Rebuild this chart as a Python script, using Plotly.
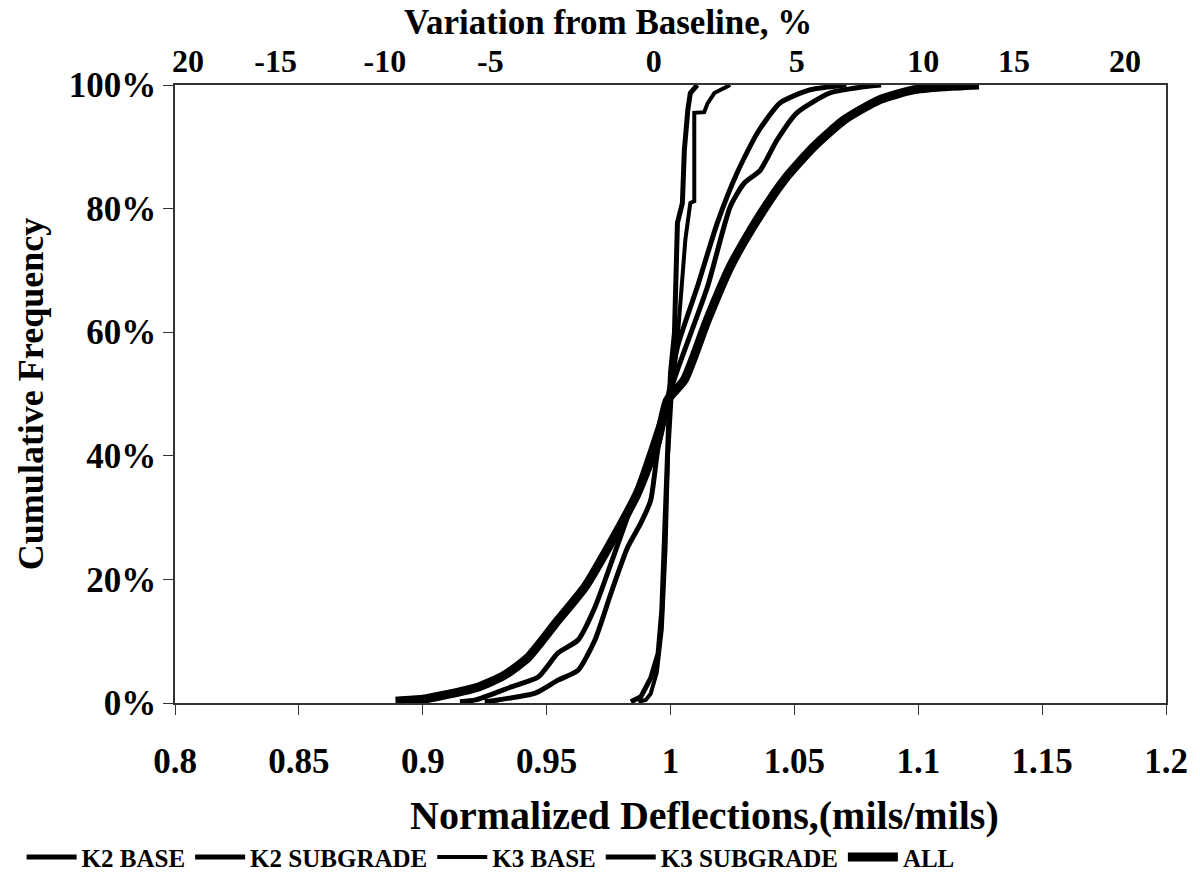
import plotly.graph_objects as go

# ---- data ----
k2_base_x = [0.984, 0.988, 0.992, 0.995, 0.9965, 0.9975, 0.9985, 0.9995, 1.0, 1.0016, 1.0028, 1.0048, 1.0056, 1.0070, 1.0080, 1.0108]
k2_base_y = [0.002, 0.01, 0.04, 0.08, 0.15, 0.25, 0.38, 0.48, 0.534, 0.599, 0.777, 0.809, 0.895, 0.96, 0.987, 1.0]

k2_sub_x = [0.915, 0.9213, 0.9357, 0.9466, 0.9546, 0.9627, 0.9695, 0.9775, 0.9855, 0.992, 0.996, 1.0028, 1.0149, 1.0241, 1.0297, 1.0362, 1.043, 1.051, 1.0643, 1.0779, 1.085]
k2_sub_y = [0.002, 0.005, 0.026, 0.042, 0.081, 0.102, 0.155, 0.243, 0.333, 0.409, 0.458, 0.539, 0.673, 0.803, 0.841, 0.862, 0.911, 0.955, 0.987, 0.997, 1.0]

k3_base_x = [0.987, 0.990, 0.992, 0.9945, 0.9965, 0.998, 0.999, 1.0005, 1.0028, 1.0060, 1.008, 1.0096, 1.0096, 1.0136, 1.0149, 1.0177, 1.0241]
k3_base_y = [0.002, 0.005, 0.015, 0.05, 0.12, 0.25, 0.40, 0.50, 0.587, 0.75, 0.809, 0.812, 0.955, 0.956, 0.970, 0.987, 1.0]

k3_sub_x = [0.925, 0.9305, 0.9454, 0.9546, 0.9627, 0.9695, 0.976, 0.9827, 0.988, 0.992, 0.9948, 0.9976, 1.0028, 1.0108, 1.0189, 1.0269, 1.035, 1.0442, 1.0562, 1.071]
k3_sub_y = [0.002, 0.005, 0.016, 0.037, 0.053, 0.102, 0.178, 0.252, 0.291, 0.328, 0.409, 0.463, 0.576, 0.673, 0.777, 0.858, 0.922, 0.971, 0.992, 1.0]

all_x = [0.889, 0.900, 0.909, 0.9225, 0.933, 0.9426, 0.9546, 0.9655, 0.9759, 0.9867, 0.9948, 0.9988, 1.0056, 1.0149, 1.0241, 1.035, 1.0458, 1.0578, 1.0699, 1.0843, 1.098, 1.11, 1.1245]
all_y = [0.003, 0.006, 0.013, 0.026, 0.045, 0.074, 0.134, 0.188, 0.259, 0.34, 0.425, 0.49, 0.523, 0.62, 0.706, 0.782, 0.846, 0.90, 0.943, 0.976, 0.992, 0.997, 1.0]

series_names = ["K2 BASE", "K2 SUBGRADE", "K3 BASE", "K3 SUBGRADE", "ALL"]
x_ticks = [0.8, 0.85, 0.9, 0.95, 1.0, 1.05, 1.1, 1.15, 1.2]
y_ticks = [0, 0.2, 0.4, 0.6, 0.8, 1.0]
top_tick_labels = ["20", "-15", "-10", "-5", "0", "5", "10", "15", "20"]

# ---- layout / style ----
top_tick_pos = [0.8052, 0.8406, 0.8847, 0.9273, 0.9932, 1.0510, 1.1020, 1.1386, 1.1835]
FONT = "Liberation Serif"
widths = [5, 5, 4, 5, 9]
shapes = ["linear", "spline", "linear", "spline", "spline"]

fig = go.Figure()
series = [(k2_base_x, k2_base_y), (k2_sub_x, k2_sub_y), (k3_base_x, k3_base_y),
          (k3_sub_x, k3_sub_y), (all_x, all_y)]
for (xs, ys), name, w, shp in zip(series, series_names, widths, shapes):
    fig.add_trace(go.Scatter(x=xs, y=ys, mode="lines", name=name,
                             line=dict(color="black", width=w, shape=shp, smoothing=0.6)))
# invisible trace to host the top axis
fig.add_trace(go.Scatter(x=[0.8, 1.2], y=[0, 0], xaxis="x2", mode="lines",
                         line=dict(width=0), showlegend=False, hoverinfo="skip"))

axis_font = dict(family=FONT, size=35, color="black", weight="bold")
top_font = dict(family=FONT, size=32, color="black", weight="bold")

fig.update_layout(
    width=1200, height=881,
    margin=dict(l=175, r=29, t=85, b=178),
    paper_bgcolor="white", plot_bgcolor="white",
    showlegend=True,
    legend=dict(orientation="h", xref="container", yref="container",
                x=0.018, xanchor="left", y=0.027, yanchor="middle",
                font=dict(family=FONT, size=25, color="black", weight="bold"),
                itemwidth=50, tracegroupgap=0),
    xaxis=dict(range=[0.8, 1.2], tickvals=x_ticks, ticks="outside", ticklen=10,
               tickcolor="#333", showline=True, linecolor="#333", linewidth=1.5,
               mirror=True, showgrid=False, zeroline=False, tickfont=axis_font,
               ticklabelstandoff=16),
    xaxis2=dict(range=[0.8, 1.2], overlaying="x", side="top", tickvals=top_tick_pos,
                ticktext=top_tick_labels, ticks="", showline=False, showgrid=False,
                zeroline=False, tickfont=top_font, ticklabelstandoff=6),
    yaxis=dict(range=[0, 1.0], tickvals=y_ticks, tickformat=".0%", ticks="outside",
               ticklen=10, tickcolor="#333", showline=True, linecolor="#333",
               linewidth=1.5, mirror=True, showgrid=False, zeroline=False,
               tickfont=axis_font,
               title=dict(text="Cumulative Frequency",
                          font=dict(family=FONT, size=36, color="black", weight="bold"),
                          standoff=14)),
    annotations=[
        dict(text="Variation from Baseline, %", xref="paper", yref="paper",
             x=(610 - 175) / 996, y=(881 - 22 - 178) / 618 - (881 - 178 - 85) / 618 + 1,
             xanchor="center", yanchor="middle", showarrow=False,
             font=dict(family=FONT, size=35, color="black", weight="bold")),
        dict(text="Normalized Deflections,(mils/mils)", xref="paper", yref="paper",
             x=(707 - 175) / 996, y=-(815 - 703) / 618,
             xanchor="center", yanchor="middle", showarrow=False,
             font=dict(family=FONT, size=40, color="black", weight="bold")),
    ],
)

fig.write_html("out.html")
